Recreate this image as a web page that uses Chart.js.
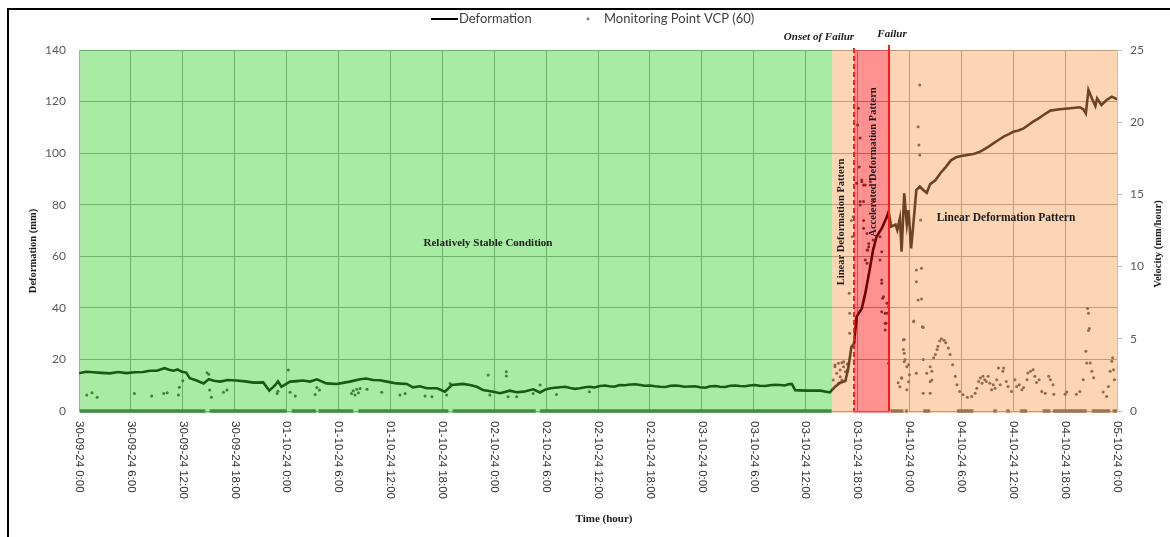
<!DOCTYPE html>
<html lang="en">
<head>
<meta charset="UTF-8">
<title>Deformation and velocity - VCP (60)</title>
<script src="https://cdn.jsdelivr.net/npm/chart.js@4.4.9/dist/chart.umd.js"></script>
<style>
  html, body { margin: 0; padding: 0; background: #fff; }
  canvas { display: block; }
</style>
</head>
<body>
<canvas id="chart" width="1170" height="537"></canvas>
<script>
// hours counted from 30-09-24 0:00
const tickLabels = [
  '30-09-24 0:00', '30-09-24 6:00', '30-09-24 12:00', '30-09-24 18:00',
  '01-10-24 0:00', '01-10-24 6:00', '01-10-24 12:00', '01-10-24 18:00',
  '02-10-24 0:00', '02-10-24 6:00', '02-10-24 12:00', '02-10-24 18:00',
  '03-10-24 0:00', '03-10-24 6:00', '03-10-24 12:00', '03-10-24 18:00',
  '04-10-24 0:00', '04-10-24 6:00', '04-10-24 12:00', '04-10-24 18:00',
  '05-10-24 0:00'
];

// phase boundaries (hours)
const stableEnd = 87;
const onsetHour = 89.6;
const failureHour = 93.6;

// deformation (mm)
const defHours = [
  0, 0.8, 1.7, 2.6, 3.6, 4.5, 5.5, 6.4, 7.4, 8.2, 9.0, 9.5, 9.9, 10.4, 10.9, 11.4, 11.9, 12.4,
  12.8, 13.6, 14.4, 15.0, 15.6, 16.3, 17.2, 18.2, 19.2, 20.2, 21.3, 22.0, 22.7, 23.0, 23.4, 24.4,
  25.2, 25.9, 26.7, 27.5, 28.6, 29.8, 30.5, 31.3, 32.5, 33.2, 34.0, 34.8, 35.6, 36.7, 37.9, 38.6,
  39.4, 40.2, 41.4, 42.3, 43.1, 44.4, 45.2, 46.0, 46.7, 47.9, 48.7, 49.8, 50.6, 51.4, 52.5, 53.3,
  53.9, 54.5, 55.0, 55.6, 56.2, 56.8, 57.3, 57.9, 58.5, 59.0, 59.6, 60.2, 60.8, 61.3, 61.9, 62.5,
  63.1, 63.7, 64.3, 64.9, 65.4, 66.0, 66.6, 67.2, 67.8, 68.4, 69.0, 69.5, 70.0, 70.6, 71.2, 71.8,
  72.4, 73.0, 73.6, 74.1, 74.7, 75.3, 75.9, 76.4, 77.0, 77.5, 78.1, 78.7, 79.3, 79.9, 80.4, 81.0,
  81.6, 82.0, 82.4, 82.8, 84.1, 85.7, 86.8, 87.4, 88.0, 88.6,
  88.9, 89.3, 89.6, 89.9, 90.5, 90.9, 91.4, 91.8, 92.2, 92.8, 93.4, 93.6, 93.9, 94.4, 94.6, 94.9,
  95.1, 95.4, 95.7, 95.9, 96.2, 96.5, 96.8, 97.2, 97.6, 98.0, 98.4, 99.0, 99.6, 100.2, 100.8, 101.4,
  102.0, 102.7, 103.4, 104.0, 104.5, 105.1, 105.7, 106.3, 106.9, 107.5, 108.0, 108.6, 109.2, 109.8,
  110.3, 110.9, 111.5, 112.3, 113.4, 114.6, 115.7, 116.1, 116.4, 116.7, 117.1, 117.5, 117.7, 118.2,
  118.8, 119.4, 120.0
];
const defValues = [
  14.6, 15.2, 15.0, 14.8, 14.6, 15.1, 14.7, 15.0, 15.1, 15.6, 15.6, 16.2, 16.6, 16.0, 15.6, 16.1, 15.2, 14.9,
  12.7, 11.8, 10.7, 12.3, 11.7, 11.4, 12.0, 11.8, 11.5, 11.0, 11.1, 7.9, 10.1, 11.5, 9.4, 11.4,
  11.6, 11.8, 11.4, 12.3, 10.7, 10.5, 10.9, 11.4, 12.3, 12.6, 12.0, 11.9, 11.4, 10.7, 10.5, 9.2,
  9.6, 8.8, 8.8, 7.5, 10.1, 10.5, 10.1, 9.4, 8.1, 7.5, 6.9, 7.9, 7.3, 7.5, 8.4, 7.2,
  8.3, 8.8, 9.0, 9.2, 9.4, 8.9, 8.6, 8.8, 9.2, 9.4, 9.1, 9.7, 9.9, 9.6, 9.4, 10.1,
  10.0, 10.3, 10.4, 10.1, 9.8, 9.9, 9.6, 9.4, 9.3, 9.8, 9.9, 9.7, 9.4, 9.5, 9.6, 9.2,
  9.0, 9.6, 9.7, 9.4, 9.3, 9.8, 9.9, 9.7, 9.6, 9.9, 10.1, 9.8, 9.7, 10.0, 10.2, 10.1,
  9.9, 10.4, 10.5, 8.1, 7.9, 7.9, 7.2, 9.4, 11.0, 11.6,
  15.9, 24.9, 26.2, 36.6, 39.8, 45.6, 54.7, 62.4, 67.6, 70.8, 75.3, 77.3, 71.5, 72.3, 70.2, 74.7,
  61.8, 84.4, 72.5, 77.9, 63.1, 74.1, 85.7, 87.0, 85.7, 84.6, 88.0, 89.5, 92.3, 94.6, 97.2, 98.4,
  98.9, 99.3, 99.7, 100.3, 101.2, 102.4, 103.8, 105.1, 106.4, 107.4, 108.3, 108.8, 109.6, 111.0,
  112.2, 113.4, 114.8, 116.5, 117.0, 117.4, 117.8, 117.0, 115.4, 124.5, 121.2, 118.3, 121.2, 118.7,
  120.6, 121.9, 120.9
];

// velocity readings (mm/hour)
const velHours = [
  0.9, 1.5, 2.1, 6.4, 8.4, 9.8, 10.2, 11.5, 11.6, 12.0, 14.8, 15.0, 15.1, 15.3, 16.7, 17.1,
  22.9, 23.0, 24.2, 24.4, 25.0, 27.3, 27.5, 27.8, 31.5, 31.7, 31.9, 32.1, 32.3, 32.5, 33.3, 35.0,
  37.1, 37.7, 40.0, 40.8, 42.5, 42.9, 47.3, 47.5, 49.4, 49.4, 49.6, 50.6, 52.5, 53.3, 55.2, 59.0,
  87.2, 87.4, 87.4, 87.6, 87.8, 87.8, 88.0, 88.0, 88.2, 88.2, 88.4, 88.4, 88.6, 88.8, 88.8,
  89.05, 89.1, 89.1, 89.3, 89.4, 89.5,
  89.9, 90.0, 90.1, 90.2, 90.3, 90.3, 90.3, 90.5, 90.5, 90.7, 90.7, 90.7, 90.7, 90.9, 90.9,
  91.1, 91.1, 91.1, 91.2, 91.3, 91.3, 91.5, 91.8, 91.8, 92.6, 92.6, 92.8, 92.8, 92.8, 92.8,
  92.9, 93.0, 93.2, 93.2, 93.2, 93.3, 93.4, 93.4, 93.6, 93.6,
  94.7, 94.9, 95.1, 95.1, 95.3, 95.3, 95.4, 95.4, 95.4, 95.5, 95.7, 95.7, 95.9, 95.9, 96.0,
  96.5, 96.5, 96.8, 96.8, 96.8, 97.0, 97.0, 97.1, 97.2, 97.2, 97.3, 97.4, 97.4, 97.5,
  97.6, 97.6, 97.6, 98.0, 98.4, 98.4, 98.4, 98.6, 98.6, 98.8, 99.0, 99.2, 99.3, 99.5, 99.7,
  100.0, 100.2, 100.5, 100.7, 101.0, 101.3, 101.5, 101.8, 102.2, 102.7, 103.2, 103.6, 103.8,
  104.0, 104.2, 104.4, 104.5, 104.7, 104.9, 105.1, 105.3, 105.5, 105.7, 105.9, 106.1, 106.3,
  106.5, 106.8, 106.9, 107.2, 107.4, 107.8, 108.2, 108.4, 108.7, 109.0, 109.2, 109.6, 109.7,
  110.0, 110.3, 110.5, 110.7, 111.0, 111.3, 111.7, 112.1, 112.3, 112.6, 112.7, 114.0, 114.2,
  115.3, 115.7, 116.1, 116.4, 116.5, 116.6, 116.7, 116.7, 116.8, 116.9, 117.1, 117.3,
  118.4, 118.8, 119.0, 119.2, 119.4, 119.5, 119.6, 119.7
];
const velValues = [
  1.11, 1.27, 0.95, 1.22, 1.04, 1.22, 1.27, 1.11, 1.64, 2.10, 2.65, 2.54, 1.45, 0.95, 1.29, 1.45,
  1.22, 1.37, 2.84, 1.29, 1.04, 1.15, 1.62, 1.45, 1.22, 1.41, 1.11, 1.50, 1.27, 1.55, 1.50, 1.29,
  1.11, 1.22, 1.04, 0.99, 1.11, 1.91, 2.49, 1.11, 2.72, 2.42, 0.99, 0.99, 1.22, 1.80, 1.15, 1.34,
  2.15, 3.07, 3.19, 2.61, 3.30, 1.92, 2.84, 2.38, 3.35, 2.15, 3.41, 3.07, 2.72, 3.25, 2.84,
  8.15, 5.38, 6.77, 13.2, 12.07, 13.46,
  15.77, 19.8, 20.96, 16.9, 18.9, 14.5, 14.27, 16.0, 15.88, 13.2, 15.65, 14.5, 12.65, 15.65, 10.46,
  12.3, 11.15, 10.23, 11.15, 11.6, 11.38, 15.88, 11.84, 14.5, 12.07, 10.46, 9.07, 11.03, 8.84, 6.88,
  7.8, 7.92, 6.77, 6.08, 5.61, 6.08, 7.46, 6.77, 7.22, 3.3,
  1.95, 1.68, 2.3, 2.26, 4.26, 4.92, 4.95, 3.41, 4.0, 3.56, 1.47, 3.07, 3.21, 2.03, 2.51,
  6.24, 6.18, 9.76, 8.95, 2.61, 19.69, 7.69, 18.42, 22.58, 17.73, 13.23, 7.76, 9.88, 5.84,
  5.78, 3.56, 1.23, 2.61, 1.23, 2.05, 3.07, 2.75, 2.15, 3.68, 3.91, 4.26, 4.49, 4.84, 5.0,
  4.9, 4.72, 4.37, 3.91, 3.21, 2.4, 1.82, 1.35, 1.12, 0.96, 1.0, 1.23, 1.58,
  2.05, 2.28, 1.93, 2.4, 2.17, 2.05, 2.4, 1.93, 1.47, 1.82, 1.58, 2.17, 2.98,
  1.82, 2.75, 2.98, 2.05, 1.7, 1.35, 2.17, 1.7, 1.82, 1.47, 1.63, 2.17, 2.63,
  2.75, 2.86, 2.4, 1.98, 2.17, 1.35, 1.23, 2.4, 2.17, 1.82, 1.16, 1.16, 1.31,
  1.16, 1.35, 2.17, 4.14, 3.33, 7.1, 5.58, 6.77, 5.72, 3.33, 2.75, 2.3,
  1.31, 1.0, 1.7, 2.75, 3.44, 3.68, 2.86, 2.17
];

// stretches (hours) where the reading stayed at 0 mm/hour
const zeroRuns = [
  [0.1, 14.6], [15.1, 24.0], [24.6, 27.4], [27.7, 31.7], [32.3, 42.7], [43.2, 52.8], [53.3, 87.0],
  [93.8, 95.3], [95.5, 95.8], [97.6, 98.4], [101.5, 103.4], [105.7, 106.1], [107.2, 107.6],
  [108.8, 109.6], [111.4, 112.3], [112.6, 116.5], [117.1, 119.2], [119.5, 120.0]
];

const deformation = defHours.map((h, i) => ({ x: h, y: defValues[i] }));
const velocity = velHours.map((h, i) => ({ x: h, y: velValues[i] }));
const zeroLine = [];
zeroRuns.forEach(([a, b]) => {
  zeroLine.push({ x: a, y: 0 }, { x: b, y: 0 }, { x: b, y: null });
});

const SERIF = '"Liberation Serif", "DejaVu Serif", serif';
const GREEN = 'rgba(50,210,40,0.43)';
const ORANGE = 'rgba(247,158,84,0.43)';
const RED = 'rgba(255,0,0,0.43)';

function drawText(ctx, str, x, y, font, color, angle, align) {
  ctx.save();
  ctx.translate(x, y);
  ctx.rotate(angle || 0);
  ctx.font = font;
  ctx.fillStyle = color;
  ctx.textAlign = align || 'center';
  ctx.textBaseline = 'middle';
  ctx.fillText(str, 0, 0);
  ctx.restore();
}

// phase bands are laid over the plot, so grid lines and marks take their tint
const overlay = {
  id: 'overlay',
  afterDatasetsDraw(chart) {
    const { ctx, chartArea: a } = chart;
    const xs = chart.scales.x;
    const px = h => Math.round(xs.getPixelForValue(h));

    ctx.save();
    const band = (h0, h1, color) => {
      ctx.fillStyle = color;
      ctx.fillRect(px(h0), a.top, px(h1) - px(h0), a.bottom - a.top + 2);
    };
    band(0, stableEnd, GREEN);
    band(stableEnd, onsetHour, ORANGE);
    band(onsetHour, failureHour, RED);
    band(failureHour, 120, ORANGE);

    // onset (dashed) and failure (solid) markers
    ctx.strokeStyle = '#ff1a1a';
    ctx.lineWidth = 2;
    ctx.setLineDash([5, 3]);
    ctx.beginPath();
    ctx.moveTo(px(onsetHour), a.top - 2);
    ctx.lineTo(px(onsetHour), a.bottom);
    ctx.stroke();
    ctx.setLineDash([]);
    ctx.beginPath();
    ctx.moveTo(px(failureHour), a.top - 5);
    ctx.lineTo(px(failureHour), a.bottom);
    ctx.stroke();
    ctx.restore();

    const bold = '700 11px ' + SERIF;
    const boldSmall = '700 10.5px ' + SERIF;
    const ink = '#1a1a1a';
    drawText(ctx, 'Onset of Failur', 819, 37, 'italic 700 11px ' + SERIF, ink);
    drawText(ctx, 'Failur', 892, 34, 'italic 700 11px ' + SERIF, ink);
    drawText(ctx, 'Relatively Stable Condition', 488, 243, bold, ink);
    drawText(ctx, 'Linear Deformation Pattern', 1006, 218, '700 11.5px ' + SERIF, ink);
    drawText(ctx, 'Linear Deformation Pattern', 841, 222, boldSmall, ink, -Math.PI / 2);
    drawText(ctx, 'Accelerated Deformation Pattern', 873, 162, boldSmall, ink, -Math.PI / 2);

    // time ticks, read top to bottom
    xs.ticks.forEach((t, i) => {
      if (tickLabels[i] === undefined) return;
      drawText(ctx, tickLabels[i], xs.getPixelForValue(t.value), 421,
        '11.5px "Liberation Sans", Arial, sans-serif', '#333', Math.PI / 2, 'left');
    });

    // axis titles
    drawText(ctx, 'Deformation (mm)', 33, 251, '700 10.5px ' + SERIF, ink, -Math.PI / 2);
    drawText(ctx, 'Velocity (mm/hour)', 1158, 244, '700 10.5px ' + SERIF, ink, -Math.PI / 2);
    drawText(ctx, 'Time (hour)', 604, 519, bold, ink);

    // legend
    ctx.save();
    ctx.strokeStyle = '#000';
    ctx.lineWidth = 2;
    ctx.beginPath();
    ctx.moveTo(431, 19);
    ctx.lineTo(458, 19);
    ctx.stroke();
    ctx.fillStyle = '#7a7a7a';
    ctx.beginPath();
    ctx.arc(588, 19, 1.4, 0, Math.PI * 2);
    ctx.fill();
    ctx.restore();
    drawText(ctx, 'Deformation', 459, 19, '13px Lato, sans-serif', '#404040', 0, 'left');
    drawText(ctx, 'Monitoring Point VCP (60)', 604, 19, '13px Lato, sans-serif', '#404040', 0, 'left');

    // outer frame
    ctx.save();
    ctx.strokeStyle = '#000';
    ctx.lineWidth = 2;
    ctx.beginPath();
    ctx.moveTo(8, 537);
    ctx.lineTo(8, 9);
    ctx.lineTo(1170, 9);
    ctx.stroke();
    ctx.restore();
  }
};

const tickFont = { family: 'Lato, sans-serif', size: 12 };

new Chart(document.getElementById('chart'), {
  type: 'line',
  data: {
    datasets: [
      {
        label: 'Deformation',
        data: deformation,
        yAxisID: 'y',
        borderColor: '#000',
        borderWidth: 2.6,
        pointRadius: 0,
        tension: 0
      },
      {
        label: 'Monitoring Point VCP (60)',
        data: velocity,
        yAxisID: 'y2',
        showLine: false,
        pointRadius: 1.5,
        pointBackgroundColor: '#444',
        pointBorderWidth: 0
      },
      {
        label: 'Monitoring Point VCP (60) - zero',
        data: zeroLine,
        yAxisID: 'y2',
        borderColor: '#555',
        borderWidth: 3.5,
        pointRadius: 0,
        spanGaps: false,
        clip: 4
      }
    ]
  },
  options: {
    responsive: false,
    animation: false,
    devicePixelRatio: 1,
    layout: { padding: { top: 50, left: 0, right: 0, bottom: 0 } },
    plugins: {
      legend: { display: false },
      tooltip: { enabled: false }
    },
    scales: {
      x: {
        type: 'linear',
        min: 0,
        max: 120,
        ticks: { display: false, stepSize: 6 },
        grid: { color: '#9a9a9a', drawTicks: false },
        border: { display: false },
        afterFit: s => { s.height = 126; }
      },
      y: {
        position: 'left',
        min: 0,
        max: 140,
        ticks: { stepSize: 20, padding: 13, font: tickFont, color: '#595959' },
        grid: { color: '#9a9a9a', drawTicks: false },
        border: { color: '#bfbfbf' },
        afterFit: s => { s.width = 79; }
      },
      y2: {
        position: 'right',
        min: 0,
        max: 25,
        ticks: { stepSize: 5, padding: 8, font: tickFont, color: '#595959' },
        grid: { drawOnChartArea: false, tickLength: 5, color: '#bfbfbf' },
        border: { color: '#bfbfbf' },
        afterFit: s => { s.width = 53; }
      }
    }
  },
  plugins: [overlay]
});
</script>
</body>
</html>
